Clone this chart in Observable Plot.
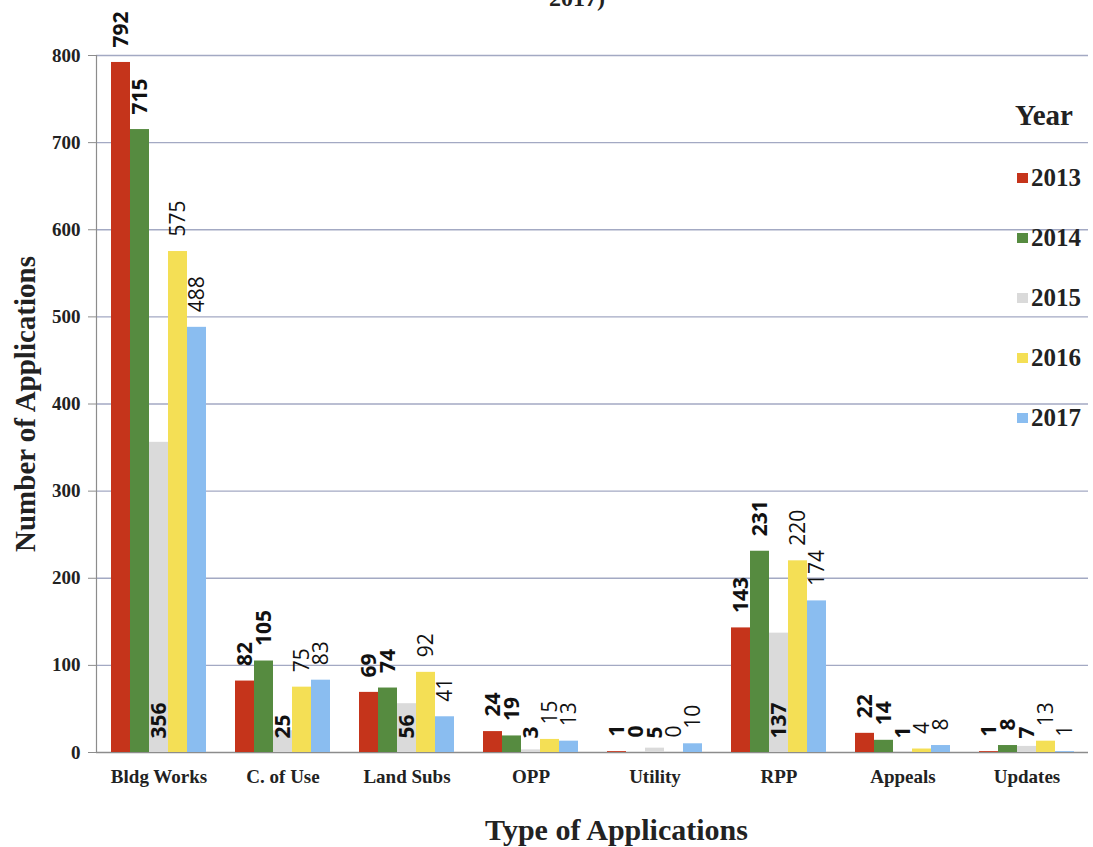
<!DOCTYPE html>
<html>
<head>
<meta charset="utf-8">
<script src="https://cdn.jsdelivr.net/npm/d3@7"></script>
<script src="https://cdn.jsdelivr.net/npm/@observablehq/plot@0.6"></script>
<style>
  body { margin: 0; background: #fff; }
  #wrap { position: relative; width: 1093px; height: 847px; overflow: hidden; background: #fff; }
  #title { position: absolute; top: -14px; left: 577px; transform: translateX(-50%);
           font: bold 24px/24px "Liberation Serif", "Times New Roman", serif; color: #222; white-space: nowrap; }
  .layer { position: absolute; left: 0; top: 0; }
  #legend { position: absolute; left: 1015px; top: 98px; font-family: "Liberation Serif", "Times New Roman", serif;
            font-weight: bold; color: #222; }
  #legend .head { font-size: 29px; line-height: 34px; margin-bottom: 30px; }
  #legend .item { display: flex; align-items: center; height: 60px; font-size: 25px; margin-top: -14px; margin-bottom: 14px; }
  #legend .sw { width: 11px; height: 10px; margin: 0 3px 0 2px; }
</style>
</head>
<body>
<div id="wrap">
  <div id="title">2017)</div>
  <div id="frame" class="layer"></div>
  <div id="bars" class="layer"></div>
  <div id="legend"></div>
</div>
<script>
// Applications received by type, 2013–2017
const categories = ["Bldg Works", "C. of Use", "Land Subs", "OPP", "Utility", "RPP", "Appeals", "Updates"];
const years = ["2013", "2014", "2015", "2016", "2017"];
const v2013 = [792, 82, 69, 24, 1, 143, 22, 1];
const v2014 = [715, 105, 74, 19, 0, 231, 14, 8];
const v2015 = [356, 25, 56, 3, 5, 137, 1, 7];
const v2016 = [575, 75, 92, 15, 0, 220, 4, 13];
const v2017 = [488, 83, 41, 13, 10, 174, 8, 1];
const yearColors = ["#c5341b", "#568b40", "#dadada", "#f4df55", "#8abdf0"];
const yTicks = [0, 100, 200, 300, 400, 500, 600, 700, 800];
const xTitle = "Type of Applications";
const yTitle = "Number of Applications";
const legendTitle = "Year";

const series = [v2013, v2014, v2015, v2016, v2017];
const rows = categories.flatMap((category, i) =>
  years.map((year, j) => ({category, year, value: series[j][i]}))
);

const serif = "'Liberation Serif', 'Times New Roman', serif";
const sans = "'Open Sans', sans-serif";
const axisColor = "#8c8c8c";

// shared geometry of both layers
const frameOpts = {
  width: 1093,
  height: 847,
  marginLeft: 96,
  marginRight: 5,
  marginTop: 55,
  marginBottom: 95,
  style: {background: "transparent", color: "#222"}
};

// back layer: gridlines, value axis, axis titles
const back = Plot.plot({
  ...frameOpts,
  y: {domain: [0, 800]},
  marks: [
    Plot.ruleY(yTicks.filter(t => t > 0), {stroke: "#a3a9c3", strokeWidth: 1.3}),
    Plot.ruleY([0], {stroke: axisColor, strokeWidth: 1.5}),
    Plot.frame({anchor: "left", stroke: axisColor, strokeWidth: 1.2}),
    Plot.axisY({ticks: yTicks, tickSize: 8, tickPadding: 8, stroke: axisColor,
      fontFamily: serif, fontWeight: "bold", fontSize: 19, label: null}),
    Plot.text([yTitle], {text: d => d, frameAnchor: "left", dx: -71, rotate: -90,
      textAnchor: "middle", lineAnchor: "middle",
      fontFamily: serif, fontWeight: "bold", fontSize: 29, fill: "#222"}),
    Plot.text([xTitle], {text: d => d, frameAnchor: "bottom", dx: 24, dy: 78,
      textAnchor: "middle", lineAnchor: "middle",
      fontFamily: serif, fontWeight: "bold", fontSize: 30, fill: "#222"})
  ]
});

const labelBase = {fx: "category", x: "year", text: d => String(d.value), rotate: -90,
  textAnchor: "start", fontFamily: sans, fontSize: 21, fill: "#111"};

// front layer: grouped bars, category labels, value labels
const front = Plot.plot({
  ...frameOpts,
  fx: {domain: categories, paddingInner: 0.234, paddingOuter: 0.117},
  x: {domain: years, padding: 0, axis: null},
  y: {domain: [0, 800], axis: null},
  color: {domain: years, range: yearColors},
  marks: [
    Plot.barY(rows, {fx: "category", x: "year", y: "value", fill: "year"}),
    Plot.axisFx({anchor: "bottom", tickSize: 0, tickPadding: 17, fontFamily: serif,
      fontWeight: "bold", fontSize: 19, label: null}),
    // 2013/2014 bold above the bar, 2015 bold at the bar base, 2016/2017 regular above
    Plot.text(rows.filter(d => d.year === "2013" || d.year === "2014"),
      {...labelBase, y: "value", dy: -15, fontWeight: "bold"}),
    Plot.text(rows.filter(d => d.year === "2015"),
      {...labelBase, y: 0, dy: -14, fontWeight: "bold"}),
    Plot.text(rows.filter(d => d.year === "2016" || d.year === "2017"),
      {...labelBase, y: "value", dy: -15, fontWeight: "normal"})
  ]
});

document.getElementById("frame").appendChild(back);
document.getElementById("bars").appendChild(front);

// legend
const legend = document.getElementById("legend");
const head = document.createElement("div");
head.className = "head";
head.textContent = legendTitle;
legend.appendChild(head);
years.forEach((y, i) => {
  const item = document.createElement("div");
  item.className = "item";
  const sw = document.createElement("span");
  sw.className = "sw";
  sw.style.background = yearColors[i];
  const lab = document.createElement("span");
  lab.textContent = y;
  item.appendChild(sw);
  item.appendChild(lab);
  legend.appendChild(item);
});
</script>
</body>
</html>
